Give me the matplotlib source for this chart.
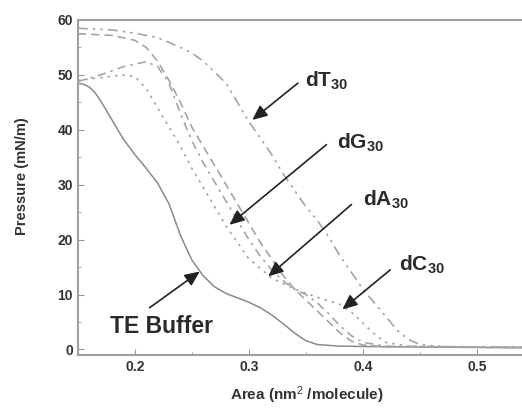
import matplotlib
matplotlib.use("Agg")
import matplotlib.pyplot as plt
from matplotlib.ticker import MultipleLocator

plt.rcParams['font.family'] = ['Liberation Sans', 'DejaVu Sans']
plt.rcParams['mathtext.fontset'] = 'custom'
plt.rcParams['mathtext.rm'] = 'Liberation Sans'
plt.rcParams['mathtext.bf'] = 'Liberation Sans:bold'
plt.rcParams['mathtext.it'] = 'Liberation Sans:italic'

# TE buffer (solid)
te_x = [0.15, 0.155, 0.16, 0.165, 0.17, 0.18, 0.19, 0.20, 0.21, 0.22, 0.23, 0.24, 0.25, 0.26,
        0.27, 0.28, 0.29, 0.30, 0.31, 0.32, 0.33, 0.34, 0.35, 0.36, 0.38, 0.42, 0.48, 0.54]
te_y = [48.5, 48.3, 47.8, 46.8, 45.3, 41.8, 38.3, 35.5, 33, 30.3, 26.5, 20.8, 16.3, 13.4,
        11.4, 10.2, 9.4, 8.6, 7.6, 6.3, 4.7, 3, 1.6, 0.9, 0.6, 0.5, 0.4, 0.3]

# dC30 (dotted)
dc_x = [0.15, 0.17, 0.19, 0.20, 0.21, 0.22, 0.23, 0.24, 0.25, 0.26, 0.27, 0.28,
        0.29, 0.30, 0.32, 0.34, 0.36, 0.38, 0.39, 0.40, 0.41, 0.42, 0.44, 0.54]
dc_y = [49, 49.5, 50, 49.7, 47.5, 44, 40.5, 37, 33, 29.5, 26, 22.5,
        19.5, 16.5, 13, 11, 9.5, 8.2, 6.8, 4.8, 2.8, 1.3, 0.6, 0.4]

# dA30 (dash-dot)
da_x = [0.15, 0.17, 0.19, 0.21, 0.22, 0.23, 0.24, 0.25, 0.26, 0.27, 0.28, 0.29, 0.30,
        0.31, 0.32, 0.33, 0.34, 0.35, 0.36, 0.37, 0.38, 0.39, 0.40, 0.42, 0.54]
da_y = [48.8, 50, 51.5, 52.4, 51.5, 48.5, 43, 38, 34, 30.5, 27, 23.5, 20,
        17, 14.5, 12.5, 11, 10, 8.5, 6.5, 4.3, 2.5, 1.3, 0.6, 0.4]

# dG30 (dashed)
dg_x = [0.15, 0.18, 0.20, 0.21, 0.22, 0.23, 0.24, 0.25, 0.26, 0.27, 0.28, 0.29, 0.30,
        0.31, 0.32, 0.33, 0.34, 0.35, 0.36, 0.37, 0.38, 0.39, 0.40, 0.42, 0.54]
dg_y = [57.5, 57.2, 56.3, 55, 52.5, 49, 45, 40.5, 37, 33.5, 30, 26.5, 23,
        19.5, 16.5, 13.5, 11, 9, 7, 5, 3, 1.5, 0.8, 0.5, 0.4]

# dT30 (dash-dot, rightmost)
dt_x = [0.15, 0.18, 0.20, 0.22, 0.24, 0.25, 0.26, 0.27, 0.28, 0.29, 0.30, 0.31, 0.32, 0.33,
        0.34, 0.35, 0.36, 0.37, 0.38, 0.39, 0.40, 0.41, 0.42, 0.43, 0.44, 0.45, 0.47, 0.54]
dt_y = [58.5, 58.2, 57.6, 56.8, 55, 54, 52.5, 50.5, 48.5, 45, 41.5, 38.5, 35.5, 32,
        29, 26, 23.5, 20.5, 17, 14, 11, 8.5, 6, 3.5, 1.8, 0.9, 0.5, 0.4]

labels = ["dT$_{\\mathbf{30}}$", "dG$_{\\mathbf{30}}$", "dA$_{\\mathbf{30}}$",
          "dC$_{\\mathbf{30}}$", "TE Buffer"]
text_pos = [(0.349, 49), (0.377, 37.6), (0.400, 27.3), (0.432, 15.5), (0.178, 4.2)]
arrow_start = [(0.343, 48.5), (0.368, 37.3), (0.390, 26.4), (0.424, 14.5), (0.213, 7.6)]
arrow_tip = [(0.303, 41.8), (0.283, 22.7), (0.317, 13.3), (0.382, 7.3), (0.257, 14.2)]
text_size = [15, 15, 15, 15, 16.5]

fig = plt.figure(figsize=(5.22, 4.08), dpi=100)
ax = fig.add_axes([0.149, 0.13, 0.851, 0.821])

ax.plot(te_x, te_y, color="#8a8a8a", linewidth=1.1, linestyle="-")
ax.plot(dc_x, dc_y, color="#a5a5a5", linewidth=1.2, linestyle=(0, (1.5, 3)))
ax.plot(da_x, da_y, color="#a5a5a5", linewidth=1.2, linestyle=(0, (5, 3, 1.5, 3)))
ax.plot(dg_x, dg_y, color="#a5a5a5", linewidth=1.2, linestyle=(0, (5, 3)))
ax.plot(dt_x, dt_y, color="#a5a5a5", linewidth=1.2, linestyle=(0, (6, 3, 1.5, 3, 1.5, 3)))

for lab, tp, st, tip, fs in zip(labels, text_pos, arrow_start, arrow_tip, text_size):
    ax.text(tp[0], tp[1], lab, fontsize=fs, fontweight="bold", color="#2a2a2a",
            va="center", ha="left")
    ax.annotate("", xy=tip, xytext=st,
                arrowprops=dict(arrowstyle="-|>,head_length=0.9,head_width=0.4",
                                color="#222222", linewidth=1.2, shrinkA=0, shrinkB=0))

ax.set_xlim(0.15, 0.5395)
ax.set_ylim(-1, 60)
ax.set_xticks([0.2, 0.3, 0.4, 0.5])
ax.set_xticklabels(["0.2", "0.3", "0.4", "0.5"])
ax.set_yticks([0, 10, 20, 30, 40, 50, 60])
ax.xaxis.set_minor_locator(MultipleLocator(0.05))
ax.yaxis.set_minor_locator(MultipleLocator(5))
ax.tick_params(which="both", direction="in", color="#999999", labelsize=10,
               labelcolor="#333333", top=False, right=False)
ax.tick_params(which="major", length=4)
ax.tick_params(which="minor", length=2)
for lab in ax.get_xticklabels() + ax.get_yticklabels():
    lab.set_fontweight("bold")

for s in ["left", "bottom", "top"]:
    ax.spines[s].set_color("#a0a0a0")
    ax.spines[s].set_linewidth(1.5)
ax.spines["right"].set_visible(False)

ax.set_xlabel("Area (nm$^2$ /molecule)", size=11, fontweight="bold", color="#333333",
              va="center")
ax.set_ylabel("Pressure (mN/m)", size=10.5, fontweight="bold", color="#333333",
              va="center")
ax.xaxis.set_label_coords(0.516, -0.12)
ax.yaxis.set_label_coords(-0.126, 0.534)

plt.savefig("out.png", dpi=100)
